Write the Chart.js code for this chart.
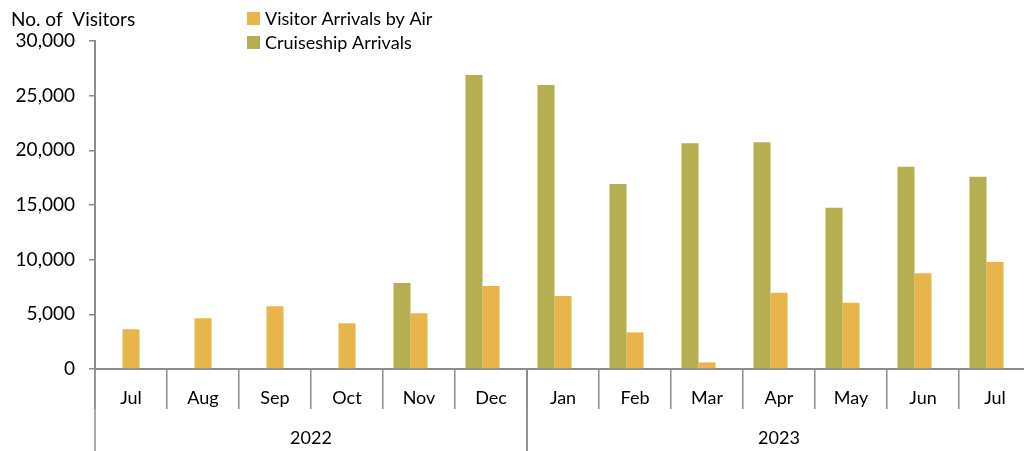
<!DOCTYPE html>
<html>
<head>
<meta charset="utf-8">
<script src="https://cdn.jsdelivr.net/npm/chart.js@4"></script>
<style>
  html, body { margin: 0; padding: 0; background: #fff; overflow: hidden; }
  #wrap { width: 1040px; height: 451px; }
</style>
</head>
<body>
<div id="wrap"><canvas id="chart" width="1040" height="451"></canvas></div>
<script>
const months = ['Jul', 'Aug', 'Sep', 'Oct', 'Nov', 'Dec', 'Jan', 'Feb', 'Mar', 'Apr', 'May', 'Jun', 'Jul'];
const years = [
    { label: '2022', first: 0, last: 5 },
    { label: '2023', first: 6, last: 12 }
];
const cruiseArrivals = [null, null, null, null, 7870, 26890, 25980, 16920, 20640, 20730, 14750, 18500, 17590];
const airArrivals = [3630, 4640, 5730, 4180, 5090, 7590, 6680, 3350, 600, 6980, 6070, 8750, 9790];
const yTicks = [0, 5000, 10000, 15000, 20000, 25000, 30000];

const FONT = 'Lato, "Noto Sans", sans-serif';
const axisGray = '#8c8c8c';
const airColor = '#E8B54A';
const cruiseColor = '#B5AF52';

// legend, axis title and the year row under the months
const extras = {
    id: 'extras',
    afterDraw(chart) {
        const ctx = chart.ctx;
        const x = chart.scales.x;
        const area = chart.chartArea;
        const bottom = chart.height;
        const half = (x.getPixelForValue(1) - x.getPixelForValue(0)) / 2;

        ctx.save();
        ctx.fillStyle = '#000';
        ctx.font = '19px ' + FONT;
        ctx.textBaseline = 'middle';
        ctx.textAlign = 'left';
        ctx.fillText('No. of  Visitors', 11, 20);

        // legend: air first, then cruise
        const sets = chart.data.datasets;
        [sets[1], sets[0]].forEach((d, i) => {
            const cy = 18 + i * 24;
            ctx.fillStyle = d.backgroundColor;
            ctx.fillRect(247, cy - 6, 13, 13);
            ctx.fillStyle = '#000';
            ctx.font = '18px ' + FONT;
            ctx.fillText(d.label, 265, cy + 1);
        });

        // year group lines + labels
        ctx.strokeStyle = axisGray;
        ctx.lineWidth = 1.5;
        ctx.font = '18px ' + FONT;
        ctx.textAlign = 'center';
        years.forEach(y => {
            const x0 = x.getPixelForValue(y.first) - half;
            const x1 = x.getPixelForValue(y.last) + half;
            [x0, x1].forEach(px => {
                ctx.beginPath();
                ctx.moveTo(px, area.bottom);
                ctx.lineTo(px, bottom);
                ctx.stroke();
            });
            ctx.fillStyle = '#000';
            ctx.fillText(y.label, (x0 + x1) / 2, 438);
        });
        ctx.restore();
    }
};

new Chart(document.getElementById('chart'), {
    type: 'bar',
    data: {
        labels: months,
        datasets: [
            { label: 'Cruiseship Arrivals', data: cruiseArrivals, backgroundColor: cruiseColor },
            { label: 'Visitor Arrivals by Air', data: airArrivals, backgroundColor: airColor },
            // empty third slot, keeps the pair left of centre like the original
            { label: '', data: [], backgroundColor: 'rgba(0,0,0,0)' }
        ]
    },
    options: {
        responsive: false,
        animation: false,
        devicePixelRatio: 1,
        layout: { padding: { top: 41, right: 9, left: 0, bottom: 0 } },
        datasets: { bar: { categoryPercentage: 0.71, barPercentage: 1.0 } },
        plugins: {
            legend: { display: false },
            tooltip: { enabled: false }
        },
        scales: {
            x: {
                grid: { display: true, drawOnChartArea: false, offset: true, tickLength: 40, color: axisGray, lineWidth: 1.5 },
                border: { color: axisGray, width: 2 },
                ticks: { color: '#000', font: { family: FONT, size: 18 }, padding: -22, autoSkip: false, maxRotation: 0 },
                afterFit(axis) { axis.height = 82; }
            },
            y: {
                min: 0,
                max: 30000,
                afterBuildTicks(axis) { axis.ticks = yTicks.map(v => ({ value: v })); },
                grid: { display: true, drawOnChartArea: false, tickLength: 6, color: axisGray, lineWidth: 1.5 },
                border: { color: axisGray, width: 2 },
                ticks: {
                    color: '#000',
                    font: { family: FONT, size: 19 },
                    padding: 14,
                    callback: v => v.toLocaleString('en-US')
                },
                afterFit(axis) { axis.width = 95; }
            }
        }
    },
    plugins: [extras]
});
</script>
</body>
</html>
